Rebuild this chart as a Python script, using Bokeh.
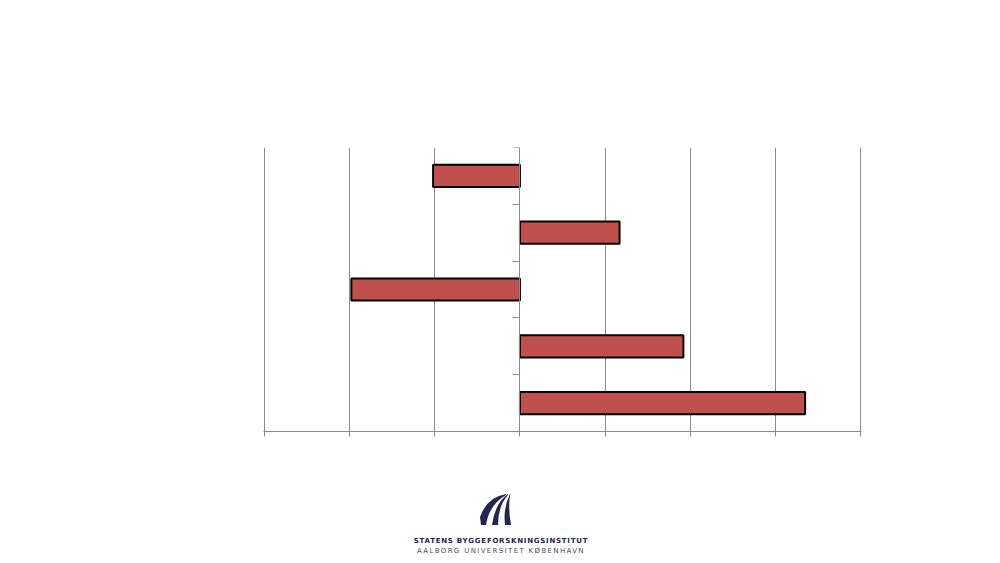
from bokeh.plotting import figure
from bokeh.models import ColumnDataSource, FixedTicker, Range1d, Div, CustomJSTickFormatter
from bokeh.layouts import column
from bokeh.embed import file_html
from bokeh.resources import INLINE

# Data (top to bottom)
categories = ["A", "B", "C", "D", "E"]
values = [-1.02, 1.17, -1.98, 1.92, 3.35]
positions = [4.5, 3.5, 2.5, 1.5, 0.5]
x_ticks = [-3, -2, -1, 0, 1, 2, 3, 4]
y_ticks = [0, 1, 2, 3, 4, 5]

src = ColumnDataSource(dict(cat=categories, val=values, pos=positions,
                            left=[min(v, 0) for v in values],
                            right=[max(v, 0) for v in values]))

p = figure(width=992, height=478, output_backend="svg", toolbar_location=None,
           x_range=Range1d(-3.012, 4.012), y_range=Range1d(0, 5),
           min_border_left=263, min_border_right=131, min_border_top=147,
           min_border_bottom=47)
p.outline_line_color = None
p.background_fill_color = "white"

p.hbar(y="pos", left="left", right="right", height=0.39, source=src,
       fill_color="#C0504D", line_color="black", line_width=2)

grey = "#8a8a8a"
p.xgrid.ticker = FixedTicker(ticks=x_ticks)
p.xgrid.grid_line_color = grey
p.xgrid.grid_line_width = 1
p.ygrid.grid_line_color = None

empty = CustomJSTickFormatter(code="return ''")
p.xaxis.ticker = FixedTicker(ticks=x_ticks)
p.xaxis.formatter = empty
p.xaxis.axis_line_color = grey
p.xaxis.major_tick_line_color = grey
p.xaxis.major_tick_out = 5
p.xaxis.major_tick_in = 0
p.xaxis.minor_tick_line_color = None

p.yaxis.ticker = FixedTicker(ticks=y_ticks)
p.yaxis.formatter = CustomJSTickFormatter(code="return ''")
p.yaxis.fixed_location = 0
p.yaxis.axis_line_color = grey
p.yaxis.major_tick_line_color = grey
p.yaxis.major_tick_out = 7
p.yaxis.major_tick_in = 0
p.yaxis.minor_tick_line_color = None

logo_html = """
<div style="width:992px;text-align:center;font-family:'DejaVu Sans',sans-serif;color:#25254f;">
  <svg width="34" height="34" viewBox="0 0 34 34" style="display:block;margin:10px auto 0 auto;position:relative;left:-5px;">
    <path d="M27 1 Q8 4 1 24 L2 32 L7 32 Q10 12 27 2 Z" fill="#25254f"/>
    <path d="M29 1 Q16 10 13 32 L19 32 Q19 13 29 2 Z" fill="#25254f"/>
    <path d="M31 1 Q24 15 26 32 L32 32 Q29 15 31 2 Z" fill="#25254f"/>
  </svg>
  <div style="font-size:7px;font-weight:bold;letter-spacing:0.75px;margin-top:9px;line-height:10px;">STATENS BYGGEFORSKNINGSINSTITUT</div>
  <div style="font-size:7px;letter-spacing:1.35px;color:#4a4a66;line-height:10px;">AALBORG UNIVERSITET KØBENHAVN</div>
</div>
"""
logo = Div(text=logo_html, width=992, height=85)

layout = column(p, logo, spacing=0)
open("out.html", "w").write(file_html(layout, INLINE))
